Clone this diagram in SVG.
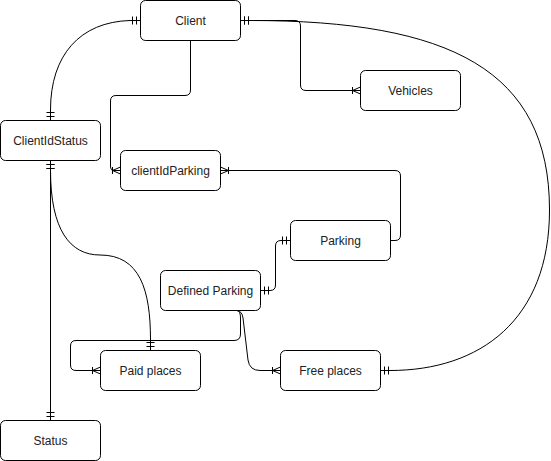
<svg xmlns="http://www.w3.org/2000/svg" width="551" height="461" viewBox="0 0 551 461">
  <style>
    .box { fill: #ffffff; stroke: #000000; stroke-width: 1; }
    .lbl { font-family: "Liberation Sans", Arial, sans-serif; font-size: 12px; fill: #222222; text-anchor: middle; dominant-baseline: central; }
    .edge { fill: none; stroke: #000000; stroke-width: 1; }
    .one-one { marker-start: url(#one); marker-end: url(#one); }
  </style>
  <defs>
    <!-- mandatory one: two crossbars just before the endpoint -->
    <marker id="one" markerUnits="userSpaceOnUse" viewBox="0 0 12 12" markerWidth="12" markerHeight="12" refX="10" refY="6" orient="auto-start-reverse">
      <path d="M2,2 L2,10 M6,2 L6,10" fill="none" stroke="#000" stroke-width="1"/>
    </marker>
    <!-- one to many: crossbar plus crow's foot -->
    <marker id="many" markerUnits="userSpaceOnUse" viewBox="0 0 12 12" markerWidth="12" markerHeight="12" refX="10" refY="6" orient="auto-start-reverse">
      <path d="M2,2.5 L2,9.5 M2,6 L10,2.5 M2,6 L10,9.5" fill="none" stroke="#000" stroke-width="1"/>
    </marker>
  </defs>

  <g id="connectors">
    <!-- Client -> ClientIdStatus -->
    <path class="edge one-one" d="M140.5,20.5 L130,20.5 C80,22 50.5,55 50.5,110 L50.5,120.5"/>
    <!-- Client -> Free places -->
    <path class="edge one-one" d="M240.5,20.5 L250,20.5 C450,20.5 549.5,70 549.5,210 C549.5,320 480,370.5 390,370.5 L380.5,370.5"/>
    <!-- Client -> Vehicles -->
    <path class="edge" marker-start="url(#one)" marker-end="url(#many)" d="M240.5,20.5 L295,20.5 Q300.5,20.5 300.5,26 L300.5,85 Q300.5,90.5 306,90.5 L360.5,90.5"/>
    <!-- Client -> clientIdParking -->
    <path class="edge" marker-end="url(#many)" d="M190.5,40.5 L190.5,90 Q190.5,95.5 185,95.5 L116,95.5 Q110.5,95.5 110.5,101 L110.5,167 Q110.5,170.5 114,170.5 L120.5,170.5"/>
    <!-- Parking -> clientIdParking -->
    <path class="edge" marker-end="url(#many)" d="M390.5,240.5 L395,240.5 Q400.5,240.5 400.5,235 L400.5,176 Q400.5,170.5 395,170.5 L220.5,170.5"/>
    <!-- Defined Parking -> Parking -->
    <path class="edge one-one" d="M260.5,290.5 L270,290.5 Q275.5,290.5 275.5,285 L275.5,246 Q275.5,240.5 281,240.5 L290.5,240.5"/>
    <!-- ClientIdStatus -> Status -->
    <path class="edge one-one" d="M50.5,160.5 L50.5,420.5"/>
    <!-- ClientIdStatus -> Paid places -->
    <path class="edge one-one" d="M50.5,160.5 L50.5,170 C50.5,230 70,255 100,255 C140,255 150.5,290 150.5,340 L150.5,350.5"/>
    <!-- Defined Parking -> Paid places -->
    <path class="edge" marker-end="url(#many)" d="M237,310.5 Q240.5,311 240.5,318 L240.5,334 Q240.5,340.5 234,340.5 L76,340.5 Q70.5,340.5 70.5,346 L70.5,365 Q70.5,370.5 76,370.5 L100.5,370.5"/>
    <!-- Defined Parking -> Free places -->
    <path class="edge" marker-end="url(#many)" d="M237,310.5 Q242,311 243,318 L248,360 Q249.5,370.5 260,370.5 L280.5,370.5"/>
  </g>

  <g id="client">
    <rect class="box" x="140.5" y="0.5" width="100" height="40" rx="5"/>
    <text class="lbl" x="190.5" y="20.5">Client</text>
  </g>
  <g id="vehicles">
    <rect class="box" x="360.5" y="70.5" width="100" height="40" rx="5"/>
    <text class="lbl" x="410.5" y="90.5">Vehicles</text>
  </g>
  <g id="clientIdStatus">
    <rect class="box" x="0.5" y="120.5" width="100" height="40" rx="5"/>
    <text class="lbl" x="50.5" y="140.5">ClientIdStatus</text>
  </g>
  <g id="clientIdParking">
    <rect class="box" x="120.5" y="150.5" width="100" height="40" rx="5"/>
    <text class="lbl" x="170.5" y="170.5">clientIdParking</text>
  </g>
  <g id="parking">
    <rect class="box" x="290.5" y="220.5" width="100" height="40" rx="5"/>
    <text class="lbl" x="340.5" y="240.5">Parking</text>
  </g>
  <g id="definedParking">
    <rect class="box" x="160.5" y="270.5" width="100" height="40" rx="5"/>
    <text class="lbl" x="210.5" y="290.5">Defined Parking</text>
  </g>
  <g id="paidPlaces">
    <rect class="box" x="100.5" y="350.5" width="100" height="40" rx="5"/>
    <text class="lbl" x="150.5" y="370.5">Paid places</text>
  </g>
  <g id="freePlaces">
    <rect class="box" x="280.5" y="350.5" width="100" height="40" rx="5"/>
    <text class="lbl" x="330.5" y="370.5">Free places</text>
  </g>
  <g id="status">
    <rect class="box" x="0.5" y="420.5" width="100" height="40" rx="5"/>
    <text class="lbl" x="50.5" y="440.5">Status</text>
  </g>
</svg>
